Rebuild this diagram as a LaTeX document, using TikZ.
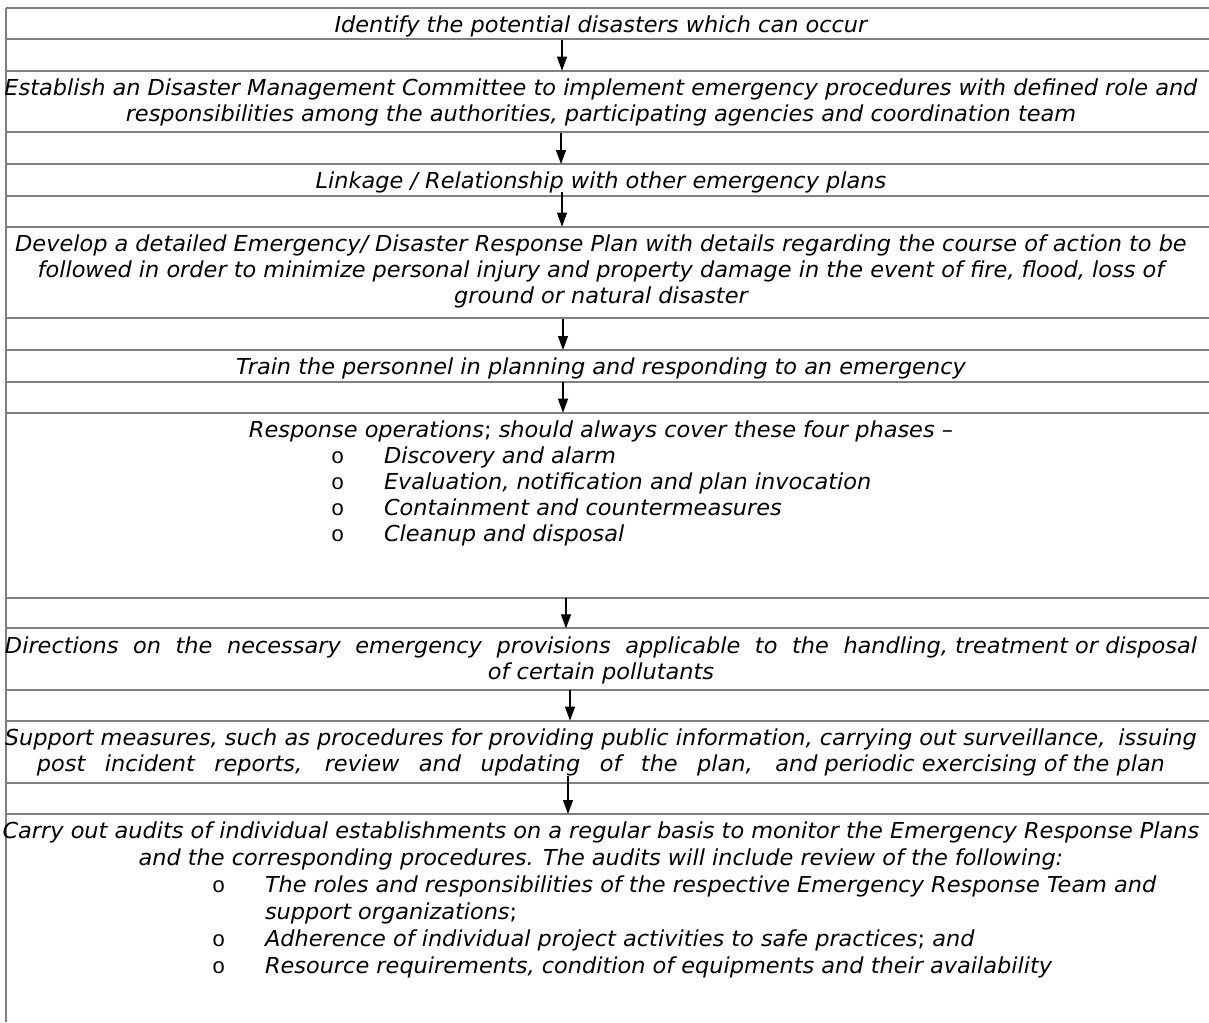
\documentclass[tikz,border=0pt]{standalone}
\usepackage{fontspec}
\setmainfont{DejaVu Sans Condensed}[FakeStretch=1.133]
\newfontfamily\bulletfont{Liberation Mono}
\usetikzlibrary{arrows.meta}
\definecolor{rulegray}{RGB}{128,128,128}
\newcommand\cellstrut{\rule{0pt}{24.5pt}}
\newcommand\rowtext[2]{\parbox[t][#1][t]{1230pt}{\centering\cellstrut#2}}
\newcommand\bul[2]{\makebox[1230pt][l]{\hspace*{#1}\makebox[53pt][l]{\upshape\bulletfont o}#2}}
\newcommand\indentline[2]{\makebox[1230pt][l]{\hspace*{#1}#2}}
\tikzset{
  cell/.style={anchor=north, inner sep=0pt, font=\fontsize{22}{26}\selectfont\itshape},
  rule/.style={rulegray, line width=1.8pt},
  flow/.style={-{Triangle[length=14pt,width=10pt]}, line width=1.2pt}
}
\begin{document}
\begin{tikzpicture}[x=1pt,y=-1pt]
  \useasboundingbox (0,0) rectangle (1209,1022);

  %rules
  \foreach \y in {8,39.3,70.7,132.3,164,195.7,226.7,318.3,350,381.7,412.7,597.7,628.3,690,720.7,783.3,814}
    \draw[rule] (6,\y) -- (1209,\y);
  \draw[rule] (6,8) -- (6,1022);

  %steps
  \node[cell] (identify) at (601,8)
    {\rowtext{31.3pt}{Identify the potential disasters which can occur}};
  \node[cell] (committee) at (601,70.7)
    {\rowtext{61.6pt}{Establish an Disaster Management Committee to implement emergency procedures with defined role and\\
     responsibilities among the authorities, participating agencies and coordination team}};
  \node[cell] (linkage) at (601,164)
    {\rowtext{31.7pt}{Linkage / Relationship with other emergency plans}};
  \node[cell] (plan) at (601,226.7)
    {\rowtext{91.6pt}{Develop a detailed Emergency/ Disaster Response Plan with details regarding the course of action to be\\
     followed in order to minimize personal injury and property damage in the event of fire, flood, loss of\\
     ground or natural disaster}};
  \node[cell] (training) at (601,350)
    {\rowtext{31.7pt}{Train the personnel in planning and responding to an emergency}};
  \node[cell] (response) at (601,412.7)
    {\rowtext{185pt}{Response operations\textup{;} should always cover these four phases –\\
     \bul{345pt}{Discovery and alarm}\\
     \bul{345pt}{Evaluation, notification and plan invocation}\\
     \bul{345pt}{Containment and countermeasures}\\
     \bul{345pt}{Cleanup and disposal}}};
  \node[cell] (directions) at (601,628.3)
    {\rowtext{61.7pt}{\makebox[1192pt][s]{Directions on the necessary emergency provisions applicable to the \mbox{handling, treatment or disposal}}\\
     of certain pollutants}};
  \node[cell] (support) at (601,720.7)
    {\rowtext{62.6pt}{\makebox[1192pt][s]{\mbox{Support measures, such as procedures for providing public information, carrying out surveillance,} issuing}\\
     \makebox[1128pt][s]{post incident reports, review and updating of the plan, \mbox{and periodic exercising of the plan}}}};
  \node[cell] (audits) at (601,814)
    {\rowtext{208pt}{\setlength{\baselineskip}{27pt}%
     Carry out audits of individual establishments on a regular basis to monitor the Emergency Response Plans\\
     and the corresponding procedures. The audits will include review of the following:\\
     \bul{226pt}{The roles and responsibilities of the respective Emergency Response Team and}\\
     \indentline{279pt}{support organizations\textup{;}}\\
     \bul{226pt}{Adherence of individual project activities to safe practices\textup{;} and}\\
     \bul{226pt}{Resource requirements, condition of equipments and their availability}}};

  %arrows
  \draw[flow] ([xshift=-39pt]identify.south) -- ([xshift=-39pt]committee.north);
  \draw[flow] ([xshift=-40pt]committee.south) -- ([xshift=-40pt]linkage.north);
  \draw[flow] ([xshift=-39pt,yshift=4pt]linkage.south) -- ([xshift=-39pt]plan.north);
  \draw[flow] ([xshift=-38pt]plan.south) -- ([xshift=-38pt]training.north);
  \draw[flow] ([xshift=-38pt]training.south) -- ([xshift=-38pt]response.north);
  \draw[flow] ([xshift=-35pt]response.south) -- ([xshift=-35pt]directions.north);
  \draw[flow] ([xshift=-31pt]directions.south) -- ([xshift=-31pt]support.north);
  \draw[flow] ([xshift=-33pt,yshift=8pt]support.south) -- ([xshift=-33pt]audits.north);
\end{tikzpicture}
\end{document}
